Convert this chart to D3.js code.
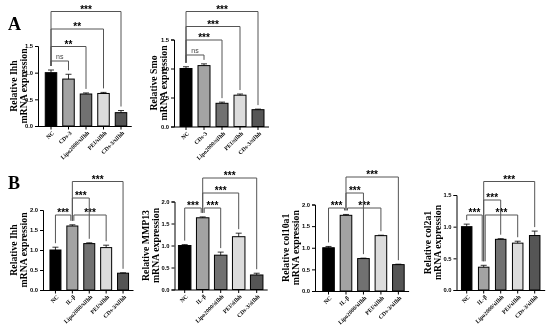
<!DOCTYPE html>
<html>
<head>
<meta charset="utf-8">
<script src="https://cdn.jsdelivr.net/npm/d3@7"></script>
<style>
  body { margin: 0; background: #fff; }
  svg { display: block; will-change: transform; }
  .tick text { font-family: Arial, "Liberation Sans", sans-serif; font-weight: bold; font-size: 5.8px; }
</style>
</head>
<body>
<div id="chart"></div>
<script>
var width = 550, height = 335;

// categories
var catsA = ["NC", "CDs-3", "Lipo2000/siIhh", "PEI/siIhh", "CDs-3/siIhh"];
var catsB = ["NC", "IL-β", "Lipo2000/siIhh", "PEI/siIhh", "CDs-3/siIhh"];

// means and error (SD, drawn upward)
var ihhA = [1.00, 0.88, 0.60, 0.61, 0.25];
var ihhAErr = [0.05, 0.09, 0.02, 0.02, 0.04];
var smoA = [1.00, 1.05, 0.40, 0.54, 0.29];
var smoAErr = [0.03, 0.03, 0.02, 0.02, 0.01];
var ihhB = [1.00, 1.60, 1.16, 1.06, 0.42];
var ihhBErr = [0.07, 0.03, 0.02, 0.06, 0.01];
var mmp13B = [1.00, 1.63, 0.78, 1.20, 0.33];
var mmp13BErr = [0.02, 0.02, 0.07, 0.08, 0.04];
var col10B = [1.00, 1.75, 0.75, 1.28, 0.61];
var col10BErr = [0.03, 0.02, 0.01, 0.01, 0.01];
var col2B = [1.00, 0.36, 0.80, 0.74, 0.86];
var col2BErr = [0.04, 0.03, 0.01, 0.03, 0.07];

// tick labels
var ticks15 = [0, 0.5, 1.0, 1.5];
var ticks20 = [0, 0.5, 1.0, 1.5, 2.0];

// significance brackets: [from, to, label]
var sigA1 = [[0, 1, "ns"], [0, 2, "**"], [0, 3, "**"], [0, 4, "***"]];
var sigA2 = [[0, 1, "ns"], [0, 2, "***"], [0, 3, "***"], [0, 4, "***"]];
var sigB1 = [[0, 1, "***"], [1, 3, "***"], [1, 2, "***"], [1, 4, "***"]];
var sigB2 = [[0, 1, "***"], [1, 2, "***"], [1, 3, "***"], [1, 4, "***"]];
var sigB3 = [[0, 1, "***"], [1, 3, "***"], [1, 2, "***"], [1, 4, "***"]];
var sigB4 = [[0, 1, "***"], [1, 3, "***"], [1, 2, "***"], [1, 4, "***"]];

var fills = ["#000000", "#a3a3a3", "#717171", "#dcdcdc", "#555555"];
var serif = "'Liberation Serif', 'Times New Roman', serif";
var sans = "Arial, 'Liberation Sans', sans-serif";

var svg = d3.select("#chart").append("svg")
    .attr("width", width)
    .attr("height", height);

var panels = [
  {cats: catsA, vals: ihhA, errs: ihhAErr, ticks: ticks15, max: 1.5, sig: sigA1,
   axisX: 38, y0: 126, yTop: 46, band: [42.25, 129.75], barW: 11.5,
   t1: "Relative Ihh", t2: "mRNA expression", tx: 13,
   sigY: [61, 46.5, 29, 11.5]},
  {cats: catsA, vals: smoA, errs: smoAErr, ticks: ticks15, max: 1.5, sig: sigA2,
   axisX: 174, y0: 126.5, yTop: 39.5, band: [177, 267], barW: 12,
   t1: "Relative Smo", t2: "mRNA expression", tx: 153,
   sigY: [55, 40, 26.5, 11.5]},
  {cats: catsB, vals: ihhB, errs: ihhBErr, ticks: ticks20, max: 2.0, sig: sigB1,
   axisX: 43, y0: 290, yTop: 210, band: [47, 131.5], barW: 11,
   t1: "Relative Ihh", t2: "mRNA expression", tx: 13,
   sigY: [215, 215, 198, 181.5]},
  {cats: catsB, vals: mmp13B, errs: mmp13BErr, ticks: ticks20, max: 2.0, sig: sigB2,
   axisX: 174.5, y0: 289.5, yTop: 201.5, band: [175.7, 265.7], barW: 12.5,
   t1: "Relative MMP13", t2: "mRNA expression", tx: 145,
   sigY: [208, 208, 193, 178]},
  {cats: catsB, vals: col10B, errs: col10BErr, ticks: ticks20, max: 2.0, sig: sigB3,
   axisX: 315, y0: 291, yTop: 204.5, band: [319.8, 407.1], barW: 11.6,
   t1: "Relative col10a1", t2: "mRNA expression", tx: 285,
   sigY: [208, 208, 193, 177]},
  {cats: catsB, vals: col2B, errs: col2BErr, ticks: ticks15, max: 1.5, sig: sigB4,
   axisX: 456.5, y0: 290, yTop: 195, band: [458.2, 543.2], barW: 10.5,
   t1: "Relative col2a1", t2: "mRNA expression", tx: 427,
   sigY: [215, 215, 200, 181.5]}
];

panels.forEach(drawPanel);

// panel letters
svg.append("text").attr("x", 8).attr("y", 30)
    .style("font-family", serif).style("font-weight", "bold").style("font-size", "18px")
    .text("A");
svg.append("text").attr("x", 8).attr("y", 189)
    .style("font-family", serif).style("font-weight", "bold").style("font-size", "18px")
    .text("B");

function drawPanel(p) {
  var g = svg.append("g");
  var y = d3.scaleLinear().domain([0, p.max]).range([p.y0, p.yTop]);
  var x = d3.scaleBand().domain(p.cats).range(p.band);
  var step = x.bandwidth();
  var cx = function (i) { return x(p.cats[i]) + step / 2; };

  // y axis
  g.append("g")
      .attr("transform", "translate(" + p.axisX + ",0)")
      .call(d3.axisLeft(y).tickValues(p.ticks).tickSize(3).tickPadding(2).tickFormat(d3.format(".1f")))
      .call(function (a) {
        a.select(".domain").attr("stroke", "#000").attr("stroke-width", 1);
        a.selectAll(".tick line").attr("stroke", "#000");
      });

  // x axis line
  var xEnd = p.band[1] + 2;
  g.append("line")
      .attr("x1", p.axisX).attr("x2", xEnd)
      .attr("y1", p.y0 + 0.5).attr("y2", p.y0 + 0.5)
      .attr("stroke", "#000").attr("stroke-width", 1);
  g.selectAll(".xtick").data(p.cats).enter().append("line")
      .attr("x1", function (d, i) { return cx(i); })
      .attr("x2", function (d, i) { return cx(i); })
      .attr("y1", p.y0 + 0.5).attr("y2", p.y0 + 3.5)
      .attr("stroke", "#000");

  // x labels
  g.selectAll(".xlab").data(p.cats).enter().append("text")
      .attr("transform", function (d, i) {
        return "translate(" + (cx(i) + 2) + "," + (p.y0 + 6) + ") rotate(-45)";
      })
      .attr("text-anchor", "end")
      .attr("dy", "0.35em")
      .style("font-family", serif).style("font-weight", "bold").style("font-size", "5.8px")
      .text(function (d) { return d; });

  // bars
  g.selectAll(".bar").data(p.vals).enter().append("rect")
      .attr("x", function (d, i) { return cx(i) - p.barW / 2; })
      .attr("width", p.barW)
      .attr("y", function (d) { return y(d); })
      .attr("height", function (d) { return p.y0 - y(d); })
      .attr("fill", function (d, i) { return fills[i]; })
      .attr("stroke", "#000").attr("stroke-width", 1);

  // error bars
  p.vals.forEach(function (v, i) {
    var top = y(v + p.errs[i]);
    g.append("line").attr("x1", cx(i)).attr("x2", cx(i))
        .attr("y1", y(v)).attr("y2", top).attr("stroke", "#000").attr("stroke-width", 0.8);
    g.append("line").attr("x1", cx(i) - 3).attr("x2", cx(i) + 3)
        .attr("y1", top).attr("y2", top).attr("stroke", "#000").attr("stroke-width", 0.8);
  });

  // y title
  var yMid = (p.y0 + p.yTop) / 2;
  [p.t1, p.t2].forEach(function (t, k) {
    g.append("text")
        .attr("transform", "translate(" + (p.tx + k * 10 + 3.5) + "," + yMid + ") rotate(-90)")
        .attr("text-anchor", "middle")
        .style("font-family", serif).style("font-weight", "bold").style("font-size", "9.8px")
        .text(t);
  });

  // significance brackets
  p.sig.forEach(function (s, k) {
    var ly = p.sigY[k];
    var x1 = cx(s[0]), x2 = cx(s[1]);
    p.sig.forEach(function (o, m) {
      if (m === k || p.sigY[m] !== ly) return;
      if (o[1] === s[0]) x1 += 1.5;
      if (o[0] === s[1]) x2 -= 1.5;
    });
    var b1 = y(p.vals[s[0]] + p.errs[s[0]]) - 4;
    var b2 = y(p.vals[s[1]] + p.errs[s[1]]) - 4;
    g.append("path")
        .attr("d", "M" + x1 + "," + b1 + "V" + ly + "H" + x2 + "V" + b2)
        .attr("fill", "none").attr("stroke", "#555").attr("stroke-width", 1);
    var isNs = s[2] === "ns";
    g.append("text")
        .attr("x", (x1 + x2) / 2)
        .attr("y", isNs ? ly - 2.5 : ly + 1)
        .attr("text-anchor", "middle")
        .attr("fill", isNs ? "#444" : "#000")
        .style("font-family", sans)
        .style("font-weight", isNs ? "normal" : "bold")
        .style("font-size", isNs ? "7px" : "10px")
        .text(s[2]);
  });
}
</script>
</body>
</html>
